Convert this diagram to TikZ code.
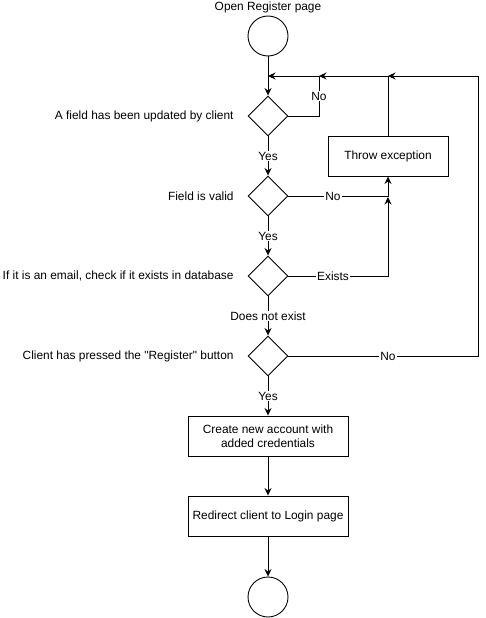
\documentclass[tikz,border=0pt]{standalone}
\usepackage{fontspec}
\setmainfont{Liberation Sans}
\newfontfamily\plainsans{Liberation Sans}
\usetikzlibrary{shapes.geometric,arrows.meta}
\begin{document}
\begin{tikzpicture}[x=1pt,y=-1pt,
  font=\fontsize{11.9}{14}\selectfont,
  every path/.style={line width=0.9pt},
  arr/.style={-{Stealth[length=7.5pt,width=7pt,inset=2.5pt]}},
  circ/.style={draw,circle,minimum size=40pt,inner sep=0pt},
  dia/.style={draw,diamond,minimum width=40pt,minimum height=40pt,inner sep=0pt,aspect=1},
  box/.style={draw,rectangle,minimum width=160pt,minimum height=40pt,align=center,inner sep=1pt},
  lbl/.style={fill=white,inner sep=1pt},
  side/.style={anchor=east,inner sep=0pt}
]
\useasboundingbox (0,0) rectangle (486,618);

\node (title) at (268,7.5) {Open Register page};
\node[circ] (start) at (268,36) {};
\node[dia] (d1) at (268,116) {};
\node[dia] (d2) at (268,196) {};
\node[dia] (d3) at (268,276) {};
\node[dia] (d4) at (268,356) {};
\node[box] (create) at (268,436) {Create new account with\\added credentials};
\node[box] (redir) at (268,516) {Redirect client to Login page};
\node[circ] (end) at (268,597) {};
\node[draw,rectangle,minimum width=120pt,minimum height=40pt] (exc) at (388,156) {Throw exception};

\node[side] (t1) at (234,116) {A field has been updated by client};
\node[side] (t2) at (234,196) {Field is valid};
\node[side] (t3) at (234,276) {If it is an email, check if it exists in database};
\node[side,font=\plainsans\fontsize{11.9}{14}\selectfont] (t4) at (234,356) {Client has pressed the "Register" button};

\coordinate (j0) at (268,76);
\coordinate (j1) at (319,76);
\coordinate (j2) at (388,76);
\coordinate (j3) at (388,197);

\draw[arr] (start) -- (d1);
\draw[arr] (d1.east) -| (319,76) -- (j0);
\node[lbl] at (319,96) {No};
\draw[arr] (exc.north) |- (j1);
\draw[arr] (d4.east) -- (478,356) |- (j2);
\node[lbl] at (388,356) {No};

\draw[arr] (d1) -- node[lbl] {Yes} (d2);
\draw[arr] (d2.east) -| (exc.south);
\node[lbl] at (333,196) {No};
\draw[arr] (d2) -- node[lbl] {Yes} (d3);
\draw[arr] (d3.east) -| (j3);
\node[lbl] at (333,276) {Exists};
\draw[arr] (d3) -- node[lbl] {Does not exist} (d4);
\draw[arr] (d4) -- node[lbl] {Yes} (create);
\draw[arr] (create) -- (redir);
\draw[arr] (redir) -- (end);
\end{tikzpicture}
\end{document}
